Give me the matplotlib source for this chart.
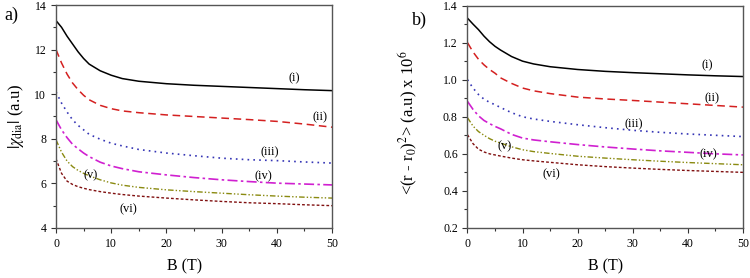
import matplotlib
matplotlib.use("Agg")
import matplotlib.pyplot as plt
from matplotlib.ticker import MultipleLocator, FormatStrFormatter

plt.rcParams['font.family'] = ['Liberation Serif', 'DejaVu Serif']
plt.rcParams['mathtext.fontset'] = 'stix'

# magnetic field (T)
B = [0, 1, 2, 3, 4, 5, 6, 8, 10, 12, 15, 20, 25, 30, 35, 40, 45, 50]

# a) |chi_dia| (a.u)
chi = {
    "i":   [13.3, 13.0, 12.6, 12.25, 11.9, 11.6, 11.35, 11.05, 10.85, 10.7, 10.58, 10.47, 10.4, 10.35, 10.3, 10.25, 10.2, 10.16],
    "ii":  [12.0, 11.4, 10.9, 10.5, 10.2, 9.95, 9.75, 9.5, 9.35, 9.25, 9.17, 9.07, 9.0, 8.93, 8.86, 8.78, 8.66, 8.52],
    "iii": [10.1, 9.6, 9.2, 8.85, 8.6, 8.4, 8.2, 7.98, 7.8, 7.68, 7.52, 7.36, 7.24, 7.13, 7.06, 7.02, 6.96, 6.91],
    "iv":  [8.85, 8.4, 8.05, 7.75, 7.55, 7.36, 7.2, 6.95, 6.78, 6.66, 6.52, 6.38, 6.26, 6.16, 6.08, 6.01, 5.97, 5.93],
    "v":   [7.95, 7.4, 7.0, 6.75, 6.58, 6.45, 6.34, 6.16, 6.02, 5.92, 5.82, 5.71, 5.63, 5.56, 5.49, 5.43, 5.38, 5.34],
    "vi":  [7.1, 6.45, 6.1, 5.95, 5.85, 5.78, 5.72, 5.63, 5.56, 5.5, 5.43, 5.34, 5.26, 5.19, 5.13, 5.09, 5.04, 5.0],
}

# b) <(r - r0)^2> (a.u) x 10^6
r2 = {
    "i":   [1.332, 1.30, 1.27, 1.235, 1.205, 1.18, 1.16, 1.125, 1.10, 1.085, 1.07, 1.055, 1.045, 1.038, 1.032, 1.026, 1.021, 1.017],
    "ii":  [1.20, 1.15, 1.11, 1.08, 1.055, 1.035, 1.01, 0.98, 0.955, 0.94, 0.925, 0.906, 0.896, 0.888, 0.879, 0.87, 0.861, 0.852],
    "iii": [1.00, 0.955, 0.92, 0.895, 0.878, 0.865, 0.85, 0.822, 0.80, 0.788, 0.775, 0.757, 0.741, 0.727, 0.716, 0.707, 0.70, 0.693],
    "iv":  [0.883, 0.84, 0.805, 0.78, 0.763, 0.748, 0.735, 0.705, 0.685, 0.675, 0.665, 0.65, 0.637, 0.626, 0.616, 0.608, 0.60, 0.594],
    "v":   [0.795, 0.75, 0.72, 0.70, 0.682, 0.668, 0.658, 0.638, 0.622, 0.612, 0.602, 0.587, 0.577, 0.568, 0.56, 0.553, 0.547, 0.541],
    "vi":  [0.703, 0.655, 0.625, 0.61, 0.60, 0.594, 0.588, 0.577, 0.568, 0.562, 0.554, 0.541, 0.531, 0.523, 0.516, 0.51, 0.505, 0.50],
}

# curve label positions (B, value)
lab_a = {"i": (43.2, 10.7), "ii": (47.8, 8.97), "iii": (38.7, 7.4),
         "iv": (37.5, 6.31), "v": (6.3, 6.36), "vi": (13.1, 4.82)}
lab_b = {"i": (43.5, 1.08), "ii": (44.3, 0.902), "iii": (30.2, 0.757),
         "iv": (43.8, 0.60), "v": (6.8, 0.64), "vi": (15.2, 0.487)}

styles = {
    "i":   dict(color='black', ls='-', lw=1.1),
    "ii":  dict(color='#d42020', ls=(0, (5, 3)), lw=1.1),
    "iii": dict(color='#3535b5', ls=(0, (1, 2.5)), lw=1.2),
    "iv":  dict(color='#d020d0', ls=(0, (6, 2, 1.5, 2)), lw=1.2),
    "v":   dict(color='#8a8a10', ls=(0, (4, 1.5, 1, 1.5, 1, 1.5)), lw=1.0),
    "vi":  dict(color='#801010', ls=(0, (2, 1.5)), lw=1.0),
}

fig = plt.figure(figsize=(7.5, 2.78), dpi=100)
ax1 = fig.add_axes([0.0747, 0.180, 0.368, 0.802])
ax2 = fig.add_axes([0.6233, 0.180, 0.3673, 0.800])


def style_axes(ax, ylo, yhi, ymaj, ymin):
    ax.set_xlim(0, 50)
    ax.set_ylim(ylo, yhi)
    ax.xaxis.set_major_locator(MultipleLocator(10))
    ax.xaxis.set_minor_locator(MultipleLocator(5))
    ax.yaxis.set_major_locator(MultipleLocator(ymaj))
    ax.yaxis.set_minor_locator(MultipleLocator(ymin))
    ax.tick_params(which='both', direction='out', labelsize=8.5, width=0.8, color='#333333')
    ax.tick_params(which='major', length=3.5)
    ax.tick_params(which='minor', length=2)
    for s in ax.spines.values():
        s.set_color('#555555')
        s.set_linewidth(1.0)
    ax.set_xlabel('B (T)', fontsize=11.5)


for k in chi:
    ax1.plot(B, chi[k], **styles[k])
    ax1.text(*lab_a[k], f"({k})", fontsize=9, ha='center', va='center')
style_axes(ax1, 4, 14, 2, 1)
ax1.set_ylabel(r'$|\chi_{\rm dia}|$ (a.u)', fontsize=12, labelpad=6)
ax1.xaxis.set_label_coords(0.465, -0.135)
fig.text(0.006, 0.93, 'a)', fontsize=13)

for k in r2:
    ax2.plot(B, r2[k], **styles[k])
    ax2.text(*lab_b[k], f"({k})", fontsize=9, ha='center', va='center')
style_axes(ax2, 0.2, 1.4, 0.2, 0.1)
ax2.yaxis.set_major_formatter(FormatStrFormatter('%.1f'))
ax2.set_ylabel(r'<(r - r$_0$)$^2$> (a.u) x 10$^6$', fontsize=12)
ax2.yaxis.set_label_coords(-0.172, 0.475)
ax2.xaxis.set_label_coords(0.5, -0.135)
fig.text(0.549, 0.91, 'b)', fontsize=13)

fig.savefig('out.png', dpi=100)
